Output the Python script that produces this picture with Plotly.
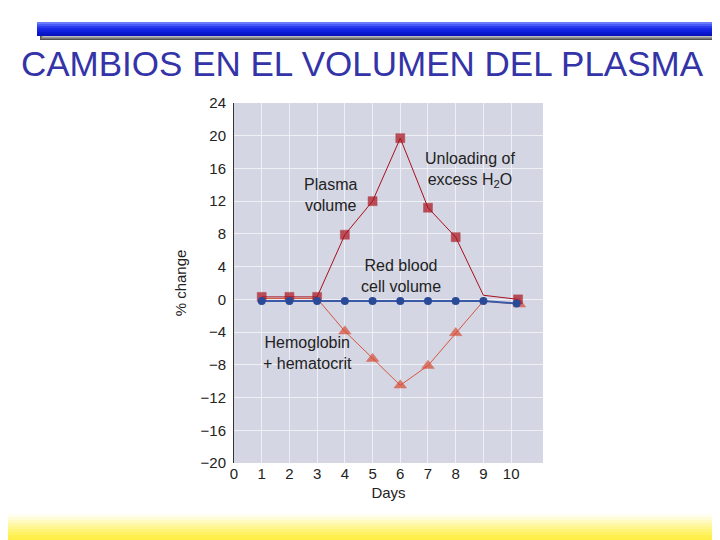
import plotly.graph_objects as go

# % change in blood components over days of heat acclimatisation
plasma_days = [1, 2, 3, 4, 5, 6, 7, 8, 9, 10.25]
plasma_change = [0.3, 0.3, 0.3, 7.9, 12.0, 19.7, 11.2, 7.6, 0.5, 0.0]
plasma_marker = [9, 9, 9, 9, 9, 9, 9, 9, 0, 9]

hemo_days = [1, 2, 3, 4, 5, 6, 7, 8, 9, 10.3]
hemo_change = [0.1, 0.1, 0.1, -3.9, -7.25, -10.5, -8.1, -4.1, -0.2, -0.6]
hemo_marker = [0, 0, 0, 11, 11, 11, 11, 11, 0, 11]

rbc_days = [1, 2, 3, 4, 5, 6, 7, 8, 9, 10.2]
rbc_change = [-0.2, -0.2, -0.2, -0.2, -0.2, -0.2, -0.2, -0.2, -0.2, -0.5]

x_ticks = [0, 1, 2, 3, 4, 5, 6, 7, 8, 9, 10]
y_ticks = [-20, -16, -12, -8, -4, 0, 4, 8, 12, 16, 20, 24]

FONT = 'Liberation Sans, Arial, sans-serif'
INK = '#222222'

# the page puts the figure 8px in from the window corner, so sizes and
# paper positions below are worked out in window pixels minus that offset
W, H = 712, 532


def px(sx):
    return (sx - 234) / 309


def py(sy):
    return (463 - sy) / 360


fig = go.Figure()
fig.add_trace(go.Scatter(x=hemo_days, y=hemo_change, mode='lines+markers',
                         line=dict(color='#d9553c', width=1),
                         marker=dict(symbol='triangle-up', size=hemo_marker, color='#d64a32',
                                     line=dict(color='#d64a32', width=0.5))))
fig.add_trace(go.Scatter(x=plasma_days, y=plasma_change, mode='lines+markers',
                         line=dict(color='#a8101c', width=1),
                         marker=dict(symbol='square', size=plasma_marker, color='#aa0f1a',
                                     line=dict(color='#aa0f1a', width=0.5))))
fig.add_trace(go.Scatter(x=rbc_days, y=rbc_change, mode='lines+markers',
                         line=dict(color='#3a5aa8', width=2),
                         marker=dict(symbol='circle', size=8, color='#2a4a98')))

labels = [
    (3.47, 12.7, 'Plasma<br>volume'),
    (8.5, 15.8, 'Unloading of<br>excess H<sub>2</sub>O'),
    (6.03, 2.8, 'Red blood<br>cell volume'),
    (2.67, -6.6, 'Hemoglobin<br>+ hematocrit'),
]
for x, y, t in labels:
    fig.add_annotation(x=x, y=y, text=t, showarrow=False, align='center',
                       font=dict(family=FONT, size=16, color=INK))

# header bar with shadow
for i, c in enumerate(['#555555', '#777777', '#999999', '#bbbbbb']):
    fig.add_shape(type='rect', xref='paper', yref='paper', layer='below',
                  x0=px(40 + i), x1=px(720), y0=py(40 - i), y1=py(35),
                  line=dict(width=0), fillcolor=c)
bar = ['#6a7aff', '#4a5af6', '#2b3cf0', '#1a28e6', '#1020dc', '#0a18cf', '#0812bf']
for i, c in enumerate(bar):
    y_top = 22 + i * 2
    fig.add_shape(type='rect', xref='paper', yref='paper', layer='below',
                  x0=px(37), x1=px(720), y0=py(y_top + 2), y1=py(y_top),
                  line=dict(width=0), fillcolor=c)

# yellow gradient band at the foot of the slide
yellow = ['#fffef0', '#fffcd8', '#fffac0', '#fff8a8', '#fff690', '#fff478', '#fff262', '#fff050', '#ffef45']
for i, c in enumerate(yellow):
    y_top = 514 + i * 3
    y_bot = y_top + 3 if i < len(yellow) - 1 else 545
    fig.add_shape(type='rect', xref='paper', yref='paper', layer='below',
                  x0=px(0), x1=px(720), y0=py(y_bot), y1=py(y_top),
                  line=dict(width=0), fillcolor=c)

fig.add_annotation(xref='paper', yref='paper', x=px(362), y=py(64),
                   text='CAMBIOS EN EL VOLUMEN DEL PLASMA', showarrow=False,
                   xanchor='center', yanchor='middle',
                   font=dict(family=FONT, size=35, color='#3434a8'))

fig.update_layout(
    width=W, height=H, showlegend=False,
    margin=dict(l=226, r=177, t=95, b=77),
    paper_bgcolor='white', plot_bgcolor='#d4d6e3',
    font=dict(family=FONT, size=14, color=INK),
    xaxis=dict(range=[0, 11.15], tickvals=x_ticks, showgrid=True, gridcolor='#eef0f6',
               gridwidth=1, zeroline=False, showline=False, ticks='',
               title=dict(text='Days', font=dict(size=15), standoff=6),
               tickfont=dict(size=15)),
    yaxis=dict(range=[-20, 24], tickvals=y_ticks, showgrid=True, gridcolor='#eef0f6',
               gridwidth=1, zeroline=False, showline=True, linecolor='#333333', linewidth=1,
               ticks='', ticklabelstandoff=4,
               title=dict(text='% change', font=dict(size=15), standoff=10),
               tickfont=dict(size=15)),
)

fig.write_html('out.html')
